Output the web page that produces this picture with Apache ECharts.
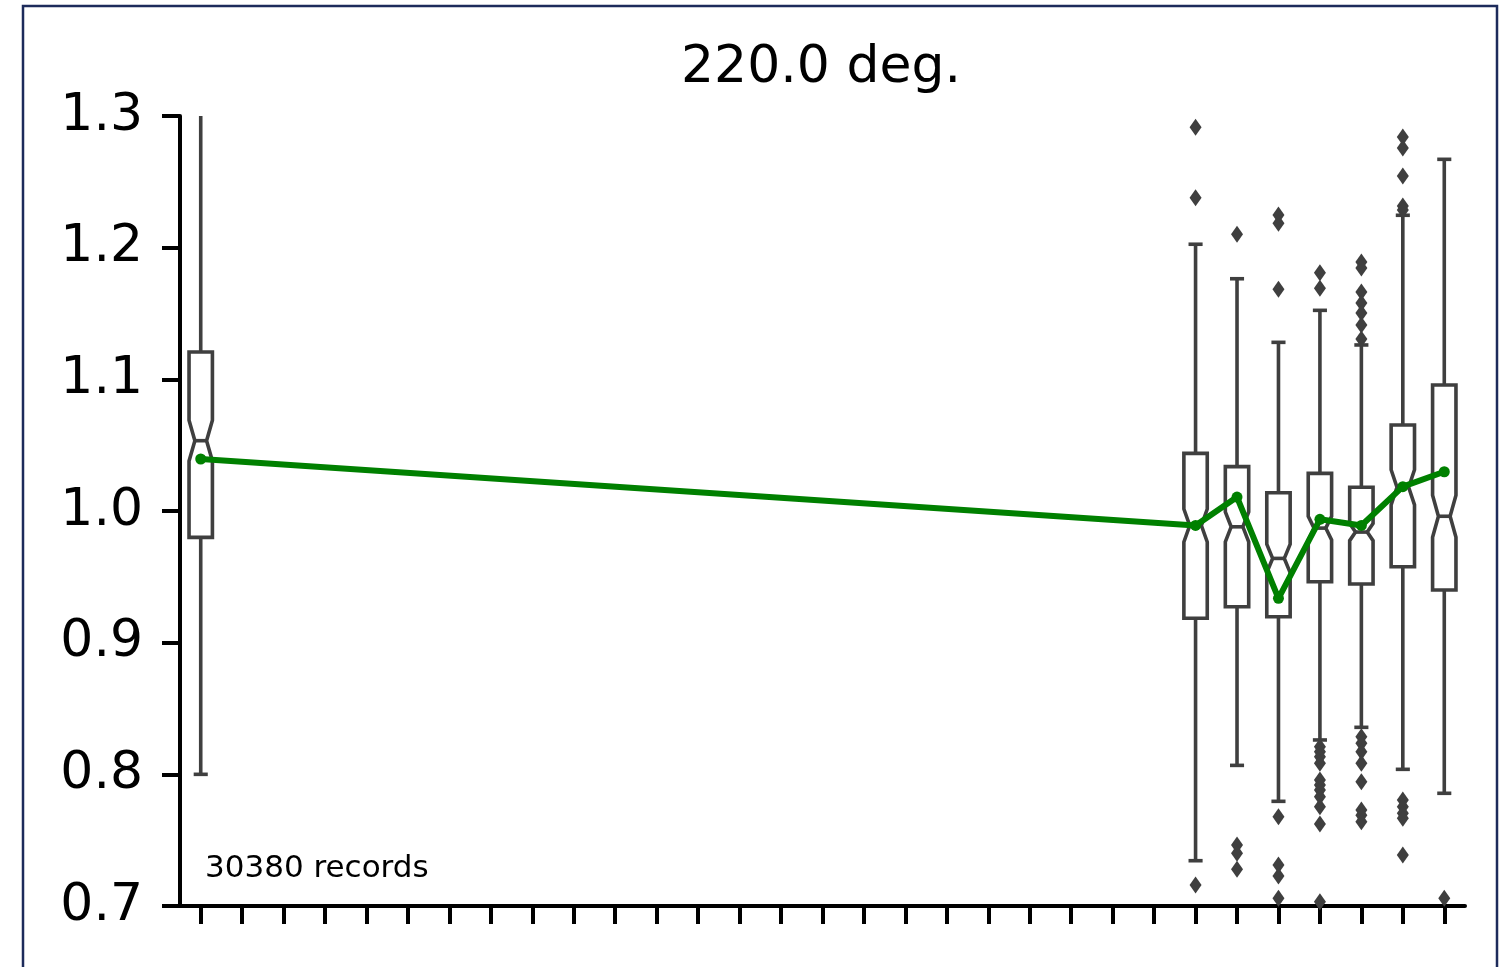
<!DOCTYPE html>
<html>
<head>
<meta charset="utf-8">
<title>220.0 deg.</title>
<script src="https://cdn.jsdelivr.net/npm/echarts@6/dist/echarts.min.js"></script>
<style>
  html, body { margin: 0; padding: 0; background: #ffffff; }
  #chart { width: 1502px; height: 967px; }
</style>
</head>
<body>
<div id="chart"></div>
<script>
// 31 bins along the x axis; only a few of them hold data
const categories = Array.from({ length: 31 }, (_, i) => String(i));

// Bins that have a box
const boxPositions = [0, 24, 25, 26, 27, 28, 29, 30];
// Box statistics per bin
const whiskerLow  = [0.800, 0.7344, 0.8068, 0.7795, 0.8261, 0.8357, 0.8038, 0.7856];
const quartile1   = [0.980, 0.9185, 0.9273, 0.9197, 0.9463, 0.9446, 0.9577, 0.9400];
const medians     = [1.0534, 0.989, 0.988, 0.964, 0.987, 0.984, 1.018, 0.996];
const quartile3   = [1.1208, 1.0438, 1.0337, 1.0139, 1.0286, 1.0180, 1.0653, 1.0957];
const whiskerHigh = [1.330, 1.2026, 1.1764, 1.1281, 1.1524, 1.1261, 1.2246, 1.2671];
// Half-height of the notch around each median
const notchHalf   = [0.0155, 0.0125, 0.0114, 0.0108, 0.0090, 0.0065, 0.0133, 0.0160];

// Mean value per bin (green line)
const means = [1.0395, 0.989, 1.0106, 0.9337, 0.9937, 0.989, 1.0185, 1.0298];

// Outliers per bin
const outliers = {
  24: [1.2914, 1.238, 0.716],
  25: [1.2101, 0.7463, 0.740, 0.7279],
  26: [1.2248, 1.2185, 1.1684, 0.7678, 0.7311, 0.7228, 0.7059],
  27: [1.181, 1.1691, 0.821, 0.8172, 0.8134, 0.8084, 0.7957, 0.7919, 0.7881, 0.783, 0.7754, 0.7623, 0.7033],
  28: [1.1891, 1.1846, 1.1663, 1.158, 1.1504, 1.1413, 1.1306, 0.8286, 0.8236, 0.8172, 0.8084, 0.7944, 0.7729, 0.769, 0.764],
  29: [1.284, 1.2757, 1.2544, 1.2316, 1.2286, 0.7805, 0.7754, 0.7704, 0.7666, 0.7387],
  30: [0.7059]
};

const yTicks = [0.7, 0.8, 0.9, 1.0, 1.1, 1.2, 1.3];
const titleText = '220.0 deg.';
const recordsText = '30380 records';

const FONT = '"DejaVu Sans", "Liberation Sans", sans-serif';
const BOX_COLOR = '#3f3f3f';
const LW = 3.6;

const boxData = boxPositions.map((p, i) => [
  p, whiskerLow[i], quartile1[i], medians[i], quartile3[i], whiskerHigh[i], notchHalf[i]
]);
const meanData = boxPositions.map((p, i) => [p, means[i]]);
const outlierData = [];
Object.keys(outliers).forEach(k => {
  outliers[k].forEach(v => outlierData.push([Number(k), v]));
});

// Notched box with whiskers and caps
function renderBox(params, api) {
  const x = api.value(0);
  const lo = api.value(1), q1 = api.value(2), med = api.value(3);
  const q3 = api.value(4), hi = api.value(5), nh = api.value(6);
  const band = api.size([1, 0])[0];
  const w = band * 0.282, wn = w / 2, cw = band * 0.17;
  const P = v => api.coord([x, v]);
  const cx = P(med)[0];
  const yq1 = P(q1)[1], yq3 = P(q3)[1], ym = P(med)[1];
  const ynTop = P(med + nh)[1], ynBot = P(med - nh)[1];
  const ylo = P(lo)[1], yhi = P(hi)[1];
  const stroke = { stroke: BOX_COLOR, lineWidth: LW };
  return {
    type: 'group',
    children: [
      { type: 'line', shape: { x1: cx, y1: yq3, x2: cx, y2: yhi }, style: stroke },
      { type: 'line', shape: { x1: cx - cw, y1: yhi, x2: cx + cw, y2: yhi }, style: stroke },
      { type: 'line', shape: { x1: cx, y1: yq1, x2: cx, y2: ylo }, style: stroke },
      { type: 'line', shape: { x1: cx - cw, y1: ylo, x2: cx + cw, y2: ylo }, style: stroke },
      {
        type: 'polygon',
        shape: {
          points: [
            [cx - w, yq3], [cx - w, ynTop], [cx - wn, ym], [cx - w, ynBot], [cx - w, yq1],
            [cx + w, yq1], [cx + w, ynBot], [cx + wn, ym], [cx + w, ynTop], [cx + w, yq3]
          ]
        },
        style: { fill: '#ffffff', stroke: BOX_COLOR, lineWidth: LW }
      },
      { type: 'line', shape: { x1: cx - wn, y1: ym, x2: cx + wn, y2: ym }, style: stroke }
    ]
  };
}

const chart = echarts.init(document.getElementById('chart'), null, { renderer: 'canvas' });

chart.setOption({
  backgroundColor: '#ffffff',
  animation: false,
  title: {
    text: titleText,
    left: 816,
    top: 37,
    textAlign: 'center',
    textStyle: { fontFamily: FONT, fontSize: 52, fontWeight: 'normal', color: '#000' }
  },
  grid: { left: 180, right: 37, top: 116, bottom: 61, containLabel: false },
  xAxis: {
    type: 'category',
    data: categories,
    boundaryGap: true,
    axisLine: { show: true, lineStyle: { color: '#000', width: 4 } },
    axisTick: { show: true, alignWithLabel: true, interval: 0, length: 18, lineStyle: { color: '#000', width: 4 } },
    axisLabel: { show: false },
    splitLine: { show: false }
  },
  yAxis: {
    type: 'value',
    min: yTicks[0],
    max: yTicks[yTicks.length - 1],
    interval: 0.1,
    axisLine: { show: true, lineStyle: { color: '#000', width: 4 } },
    axisTick: { show: true, length: 18, lineStyle: { color: '#000', width: 4 } },
    axisLabel: {
      margin: 37,
      padding: [6, 0, 0, 0],
      fontFamily: FONT,
      fontSize: 52,
      color: '#000',
      formatter: v => v.toFixed(1)
    },
    splitLine: { show: false }
  },
  graphic: [
    {
      type: 'rect',
      shape: { x: 23, y: 6, width: 1474, height: 1000 },
      style: { fill: 'none', stroke: '#1d2b5b', lineWidth: 2.5 },
      silent: true
    },
    {
      type: 'text',
      x: 205,
      y: 869,
      style: {
        text: recordsText,
        fontFamily: FONT,
        fontSize: 31,
        fill: '#000',
        textAlign: 'left',
        textVerticalAlign: 'middle'
      }
    }
  ],
  series: [
    {
      type: 'custom',
      name: 'boxes',
      renderItem: renderBox,
      data: boxData,
      encode: { x: 0, y: [1, 2, 3, 4, 5] },
      clip: true,
      z: 2
    },
    {
      type: 'scatter',
      name: 'outliers',
      data: outlierData,
      symbol: 'diamond',
      symbolSize: [12, 17],
      itemStyle: { color: BOX_COLOR, opacity: 1 },
      clip: true,
      z: 2
    },
    {
      type: 'line',
      name: 'mean',
      data: meanData,
      symbol: 'circle',
      symbolSize: 11,
      showSymbol: true,
      lineStyle: { color: '#008000', width: 6 },
      itemStyle: { color: '#008000' },
      z: 3
    }
  ]
});
</script>
</body>
</html>
